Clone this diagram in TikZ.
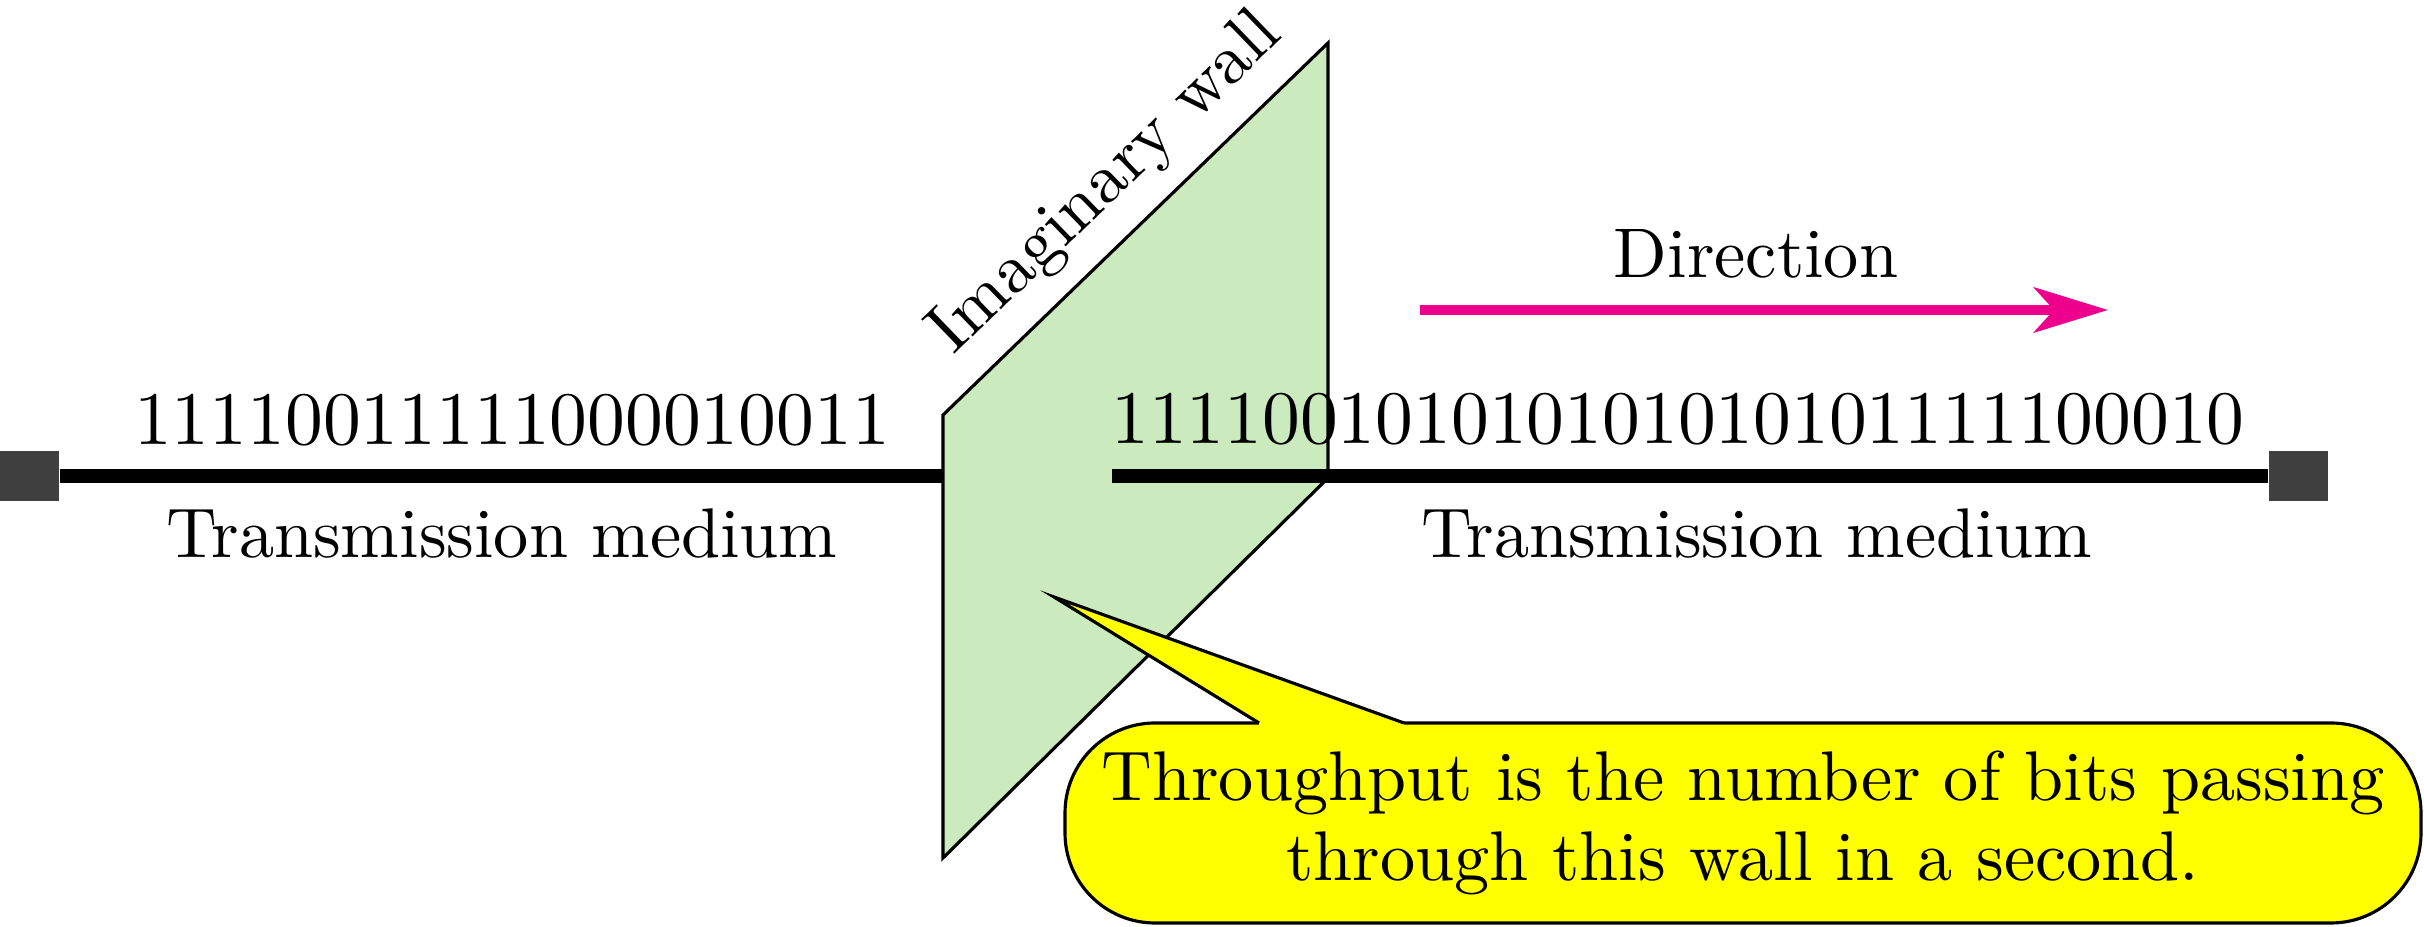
\documentclass[tikz,border=0pt]{standalone}
\usepackage{fontspec}
\setmainfont{lmroman10-regular.otf}
\usetikzlibrary{positioning,arrows.meta}
\definecolor{wallgreen}{RGB}{203,234,189}
\definecolor{dirpink}{RGB}{236,0,140}
\definecolor{termgray}{RGB}{64,64,64}
\definecolor{bubyellow}{RGB}{255,255,0}

\begin{document}
\begin{tikzpicture}[x=0.1mm,y=-0.1mm,font=\fontsize{20}{22.8}\selectfont,
  term/.style={rectangle,fill=termgray,minimum width=5.9mm,minimum height=5mm,inner sep=0pt},
  med/.style={line width=4pt},
  edge/.style={line width=0.9pt,line join=miter},
  bits/.style={font=\fontsize{21.5}{24}\selectfont,anchor=base,inner sep=0pt},
  lbl/.style={anchor=base,inner sep=0pt},
  ar/.style={-{Stealth[length=7.4mm,width=4.5mm,inset=2mm]},dirpink,line width=1mm},
  bub/.style={rectangle,rounded corners=9mm,draw,line width=0.9pt,fill=bubyellow,minimum width=135.6mm,minimum height=20mm,align=center}]
  \useasboundingbox (0,0) rectangle (2424,927);
  \node[term](lt) at (29.5,476){};
  \node[term](rt) at (2298,476){};
  \coordinate (wa) at (943,415);
  \coordinate (wb) at (1328,43);
  \coordinate (wc) at (1328,478);
  \coordinate (wd) at (943,858);
  \coordinate (rs) at (1112,476);
  \draw[med](lt.east)--(wa|-lt);
  \draw[edge,fill=wallgreen](wa)--(wb)--(wc)--(wd)--cycle;
  \draw[med](rs)--(rt.west);
  \path(wa)--(wb) node[pos=0.52,above,sloped,inner sep=2mm](wl){Imaginary wall};
  \node[bits](lb) at (512,445){11110011111000010011};
  \node[bits](rb) at (1678,444){111100101010101010101111100010};
  \node[lbl](lm) at (502,558){Transmission medium};
  \node[lbl](rm) at (1757,558){Transmission medium};
  \node[lbl](dir) at (1756,278){Direction};
  \coordinate (ds) at (1420,310);
  \coordinate (de) at (2108,310);
  \draw[ar](ds)--(de);
  \node[bub](bub) at (1743,823){Throughput is the number of bits passing\\through this wall in a second.};
  \coordinate (tip) at (1054,597);
  \coordinate (tl) at (1259,723);
  \coordinate (tr) at (1404,723);
  \fill[bubyellow](tip)--(tl)--(1259,728)--(1404,728)--(tr)--cycle;
  \draw[edge](tl)--(tip)--(tr);
\end{tikzpicture}
\end{document}
